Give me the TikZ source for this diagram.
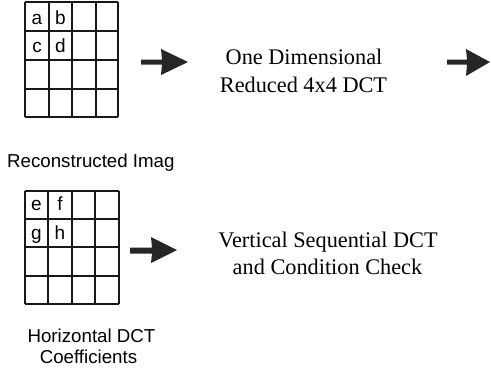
\documentclass[tikz,border=0pt]{standalone}
\usepackage{fontspec}
\setmainfont{Liberation Serif}
\setsansfont{Liberation Sans}
\begin{document}
\begin{tikzpicture}[x=1pt,y=-1pt,
  gridline/.style={line width=1.3pt,black!90},
  cellletter/.style={font=\sffamily\fontsize{19}{19}\selectfont,anchor=base,inner sep=0pt},
  steplabel/.style={font=\fontsize{22.3}{22.3}\selectfont,anchor=base,inner sep=0pt},
  caption/.style={font=\sffamily\fontsize{18.7}{18.7}\selectfont,anchor=base,inner sep=0pt},
  blockarrow/.style={fill=black!85,draw=none}]
\useasboundingbox (0,0) rectangle (491,370);

% 4x4 block of the reconstructed image
\foreach \xx in {25,49,72,96,118} \draw[gridline] (\xx,2) -- (\xx,117);
\foreach \yy in {2,31,60,89,117} \draw[gridline] (25,\yy) -- (118,\yy);
\node[cellletter] (a) at (37,24) {a};
\node[cellletter] (b) at (60.5,24) {b};
\node[cellletter] (c) at (37,52) {c};
\node[cellletter] (d) at (60.5,52) {d};

% 4x4 block of horizontal DCT coefficients
\foreach \xx in {25,48,72,95,119} \draw[gridline] (\xx,191) -- (\xx,304);
\foreach \yy in {191,219,247,276,304} \draw[gridline] (25,\yy) -- (119,\yy);
\node[cellletter] (e) at (36.5,210.5) {e};
\node[cellletter] (f) at (60,210.5) {f};
\node[cellletter] (g) at (36.5,239) {g};
\node[cellletter] (h) at (60,239) {h};

% captions under the blocks
\begin{scope}
  \clip (0,145) rectangle (176,175);
  \node[caption,anchor=base west] (recon) at (7,167) {Reconstructed Imag};
\end{scope}
\node[caption] (horiz) at (91.5,342) {Horizontal DCT};
\node[caption] (coeff) at (88.5,363) {Coefficients};

% processing steps
\node[steplabel] (one) at (304,64.5) {One Dimensional};
\node[steplabel] (red) at (303.5,92) {Reduced 4x4 DCT};
\node[steplabel] (vert) at (328,247) {Vertical Sequential DCT};
\node[steplabel] (cond) at (327.5,274) {and Condition Check};

% block arrows
\fill[blockarrow] (141,59.5) -- (162,59.5) -- (161,49) -- (188,62) -- (161,75) -- (162,64.5) -- (141,64.5) -- cycle;
\fill[blockarrow] (447,59.5) -- (467,59.5) -- (466,49) -- (490,62) -- (466,76) -- (467,64.5) -- (447,64.5) -- cycle;
\fill[blockarrow] (130,247.5) -- (152,247.5) -- (151,237) -- (177,250) -- (151,263) -- (152,253.5) -- (130,253.5) -- cycle;
\end{tikzpicture}
\end{document}
